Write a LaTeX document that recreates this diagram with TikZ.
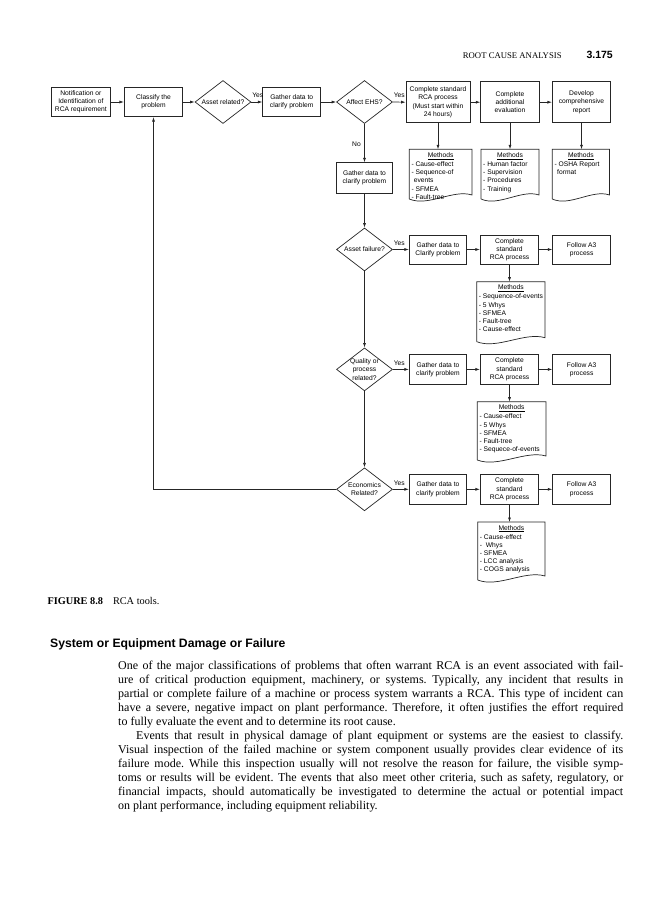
\documentclass[tikz,border=0pt]{standalone}
\usepackage{fontspec}
\setmainfont{Liberation Serif}
\newfontfamily\arialf{Liberation Sans}
\usetikzlibrary{arrows.meta,shapes.geometric,calc}

\newcommand\diagfont{\arialf\fontsize{6.7}{8.2}\selectfont}
\newcommand\bodyfont{\fontsize{12}{14}\selectfont\frenchspacing}

\tikzset{
  box/.style={draw=black!85, line width=0.7pt, align=center, font=\diagfont, inner sep=0.5pt},
  dia/.style={draw=black!85, line width=0.7pt, shape=diamond, minimum width=56pt, minimum height=43pt, inner sep=0pt},
  dtext/.style={align=center, font=\diagfont, inner sep=0pt},
  arr/.style={draw=black!85, line width=0.7pt, -{Latex[length=4.5pt,width=3pt]}},
  lab/.style={font=\diagfont, inner sep=0.5pt},
  docline/.style={draw=black!85, line width=0.7pt},
  doctitle/.style={font=\diagfont, inner sep=0pt, anchor=base},
  doclist/.style={font=\diagfont, inner sep=0pt, align=left, anchor=north west},
}

% #1 name, #2 left, #3 top, #4 right, #5 bottom (left corner), #6 items
\newcommand\methdoc[6]{%
  \draw[docline] (#2,#5) -- (#2,#3) -- (#4,#3) -- (#4,#5-4)
     .. controls ({#4-0.3*(#4-#2)},#5-10) and ({#2+0.3*(#4-#2)},#5+8) .. (#2,#5);
  \coordinate (#1) at ({(#2+#4)/2},#3);
  \node[doctitle] (#1-t) at ({(#2+#4)/2},#3+8) {\underline{Methods}};
  \node[doclist] (#1-l) at (#2+2,#3+12.1) {#6};
}

\begin{document}
\begin{tikzpicture}[x=1pt,y=-1pt]
\fill[white] (0,0) rectangle (662,900);
\useasboundingbox (0,0) rectangle (662,900);

% page header
\node[anchor=base west, inner sep=0pt, font=\fontsize{8.7}{10}\selectfont] (hdr) at (462.7,58.3) {ROOT CAUSE ANALYSIS};
\node[anchor=base east, inner sep=0pt, font=\arialf\bfseries\fontsize{10.5}{12}\selectfont] (pg) at (613,58.3) {3.175};

% row 1
\node[box, minimum width=59.7pt, minimum height=29.4pt] (n1) at (80.85,102) {Notification or\\Identification of\\RCA requirement};
\node[box, minimum width=58.4pt, minimum height=29.4pt] (n2) at (153.5,102) {Classify the\\problem};
\node[dia] (d1) at (223,102) {};
\node[dtext] (d1t) at (d1) {Asset related?};
\node[box, minimum width=58pt, minimum height=29.4pt] (n3) at (291.7,102) {Gather data to\\clarify problem};
\node[dia] (d2) at (364.5,102) {};
\node[dtext] (d2t) at (d2) {Affect EHS?};
\node[box, minimum width=64pt, minimum height=41pt] (c1) at (438,102.2) {Complete standard\\RCA process\\(Must start within\\24 hours)};
\node[box, minimum width=58.6pt, minimum height=41pt] (c2) at (510,102.2) {Complete\\additional\\evaluation};
\node[box, minimum width=58.4pt, minimum height=41pt] (c3) at (581.5,102.2) {Develop\\comprehensive\\report};

\draw[arr] (n1.east) -- (n2.west);
\draw[arr] (n2.east) -- (d1.west);
\draw[arr] (d1.east) -- (n3.west);
\node[lab, anchor=south west] (y1) at ($(d1.east)+(0.3,-3.3)$) {Yes};
\draw[arr] (n3.east) -- (d2.west);
\draw[arr] (d2.east) -- (c1.west);
\node[lab, anchor=south west] (y2) at ($(d2.east)+(0.3,-3.3)$) {Yes};
\draw[arr] (c1.east) -- (c2.west);
\draw[arr] (c2.east) -- (c3.west);

\methdoc{m1}{409.3}{149.3}{472}{199}{- Cause-effect\\- Sequence-of\\\hspace*{2.3pt}events\\- SFMEA\\- Fault-tree}
\methdoc{m2}{481}{149.3}{539}{199}{- Human factor\\- Supervision\\- Procedures\\- Training}
\methdoc{m3}{552.3}{149.3}{609.5}{199}{- OSHA Report\\\hspace*{2.7pt}format}
\draw[arr] (c1.south) -- (c1.south |- m1);
\draw[arr] (c2.south) -- (c2.south |- m2);
\draw[arr] (c3.south) -- (c3.south |- m3);

% EHS "No" branch
\node[box, minimum width=56pt, minimum height=30.6pt] (g0) at (364.5,178) {Gather data to\\clarify problem};
\draw[arr] (d2.south) -- (g0.north);
\node[lab, anchor=east] (no1) at ($(d2.south)!0.5!(g0.north)+(-3,1)$) {No};

% row 2 : asset failure
\node[dia] (d3) at (364.5,249.5) {};
\node[dtext] (d3t) at (d3) {Asset failure?};
\node[box, minimum width=57.4pt, minimum height=29pt] (g1) at (438,249.5) {Gather data to\\Clarify problem};
\node[box, minimum width=58.4pt, minimum height=29pt] (s1) at (509.5,249.5) {Complete\\standard\\RCA process};
\node[box, minimum width=58pt, minimum height=29pt] (f1) at (581.7,249.5) {Follow A3\\process};
\draw[arr] (g0.south) -- (d3.north);
\draw[arr] (d3.east) -- (g1.west);
\node[lab, anchor=south west] (y3) at ($(d3.east)+(0.3,-3.3)$) {Yes};
\draw[arr] (g1.east) -- (s1.west);
\draw[arr] (s1.east) -- (f1.west);
\methdoc{m4}{476.7}{281.7}{545}{341.7}{- Sequence-of-events\\- 5 Whys\\- SFMEA\\- Fault-tree\\- Cause-effect}
\draw[arr] (s1.south) -- (s1.south |- m4);

% row 3 : quality
\node[dia] (d4) at (364.5,369.4) {};
\node[dtext] (d4t) at (d4) {Quality or\\process\\related?};
\node[box, minimum width=57.4pt, minimum height=29.3pt] (g2) at (438,369.4) {Gather data to\\clarify problem};
\node[box, minimum width=58.4pt, minimum height=29.3pt] (s2) at (509.5,369.4) {Complete\\standard\\RCA process};
\node[box, minimum width=58pt, minimum height=29.3pt] (f2) at (581.7,369.4) {Follow A3\\process};
\draw[arr] (d3.south) -- (d4.north);
\draw[arr] (d4.east) -- (g2.west);
\node[lab, anchor=south west] (y4) at ($(d4.east)+(0.3,-3.3)$) {Yes};
\draw[arr] (g2.east) -- (s2.west);
\draw[arr] (s2.east) -- (f2.west);
\methdoc{m5}{477.3}{401.7}{546}{460}{- Cause-effect\\- 5 Whys\\- SFMEA\\- Fault-tree\\- Sequece-of-events}
\draw[arr] (s2.south) -- (s2.south |- m5);

% row 4 : economics
\node[dia] (d5) at (364.5,489.3) {};
\node[dtext] (d5t) at (d5) {Economics\\Related?};
\node[box, minimum width=57.4pt, minimum height=30pt] (g3) at (438,489.3) {Gather data to\\clarify problem};
\node[box, minimum width=58.4pt, minimum height=30pt] (s3) at (509.5,489.3) {Complete\\standard\\RCA process};
\node[box, minimum width=58pt, minimum height=30pt] (f3) at (581.7,489.3) {Follow A3\\process};
\draw[arr] (d4.south) -- (d5.north);
\draw[arr] (d5.east) -- (g3.west);
\node[lab, anchor=south west] (y5) at ($(d5.east)+(0.3,-3.3)$) {Yes};
\draw[arr] (g3.east) -- (s3.west);
\draw[arr] (s3.east) -- (f3.west);
\methdoc{m6}{477.7}{522}{545}{580}{- Cause-effect\\- \ Whys\\- SFMEA\\- LCC analysis\\- COGS analysis}
\draw[arr] (s3.south) -- (s3.south |- m6);

% return line to "Classify the problem"
\draw[arr] (d5.west) -| (n2.south);

% caption
\node[anchor=base west, inner sep=0pt, font=\fontsize{10.3}{12}\selectfont] (cap) at (47.3,604) {\textbf{FIGURE 8.8}\hspace{10pt}RCA tools.};

% section heading
\node[anchor=base west, inner sep=0pt, font=\arialf\bfseries\fontsize{12.2}{14}\selectfont] (head) at (50,647) {System or Equipment Damage or Failure};

% body text
\node[anchor=north west, inner sep=0pt, align=left, font=\bodyfont] (body) at (118,660.8) {%
\makebox[505pt][s]{One of the major classifications of problems that often warrant RCA is an event associated with fail-}\\
\makebox[505pt][s]{ure of critical production equipment, machinery, or systems. Typically, any incident that results in}\\
\makebox[505pt][s]{partial or complete failure of a machine or process system warrants a RCA. This type of incident can}\\
\makebox[505pt][s]{have a severe, negative impact on plant performance. Therefore, it often justifies the effort required}\\
to fully evaluate the event and to determine its root cause.\\
\makebox[505pt][s]{\hspace*{18pt}Events that result in physical damage of plant equipment or systems are the easiest to classify.}\\
\makebox[505pt][s]{Visual inspection of the failed machine or system component usually provides clear evidence of its}\\
\makebox[505pt][s]{failure mode. While this inspection usually will not resolve the reason for failure, the visible symp-}\\
\makebox[505pt][s]{toms or results will be evident. The events that also meet other criteria, such as safety, regulatory, or}\\
\makebox[505pt][s]{financial impacts, should automatically be investigated to determine the actual or potential impact}\\
on plant performance, including equipment reliability.};
\end{tikzpicture}
\end{document}
